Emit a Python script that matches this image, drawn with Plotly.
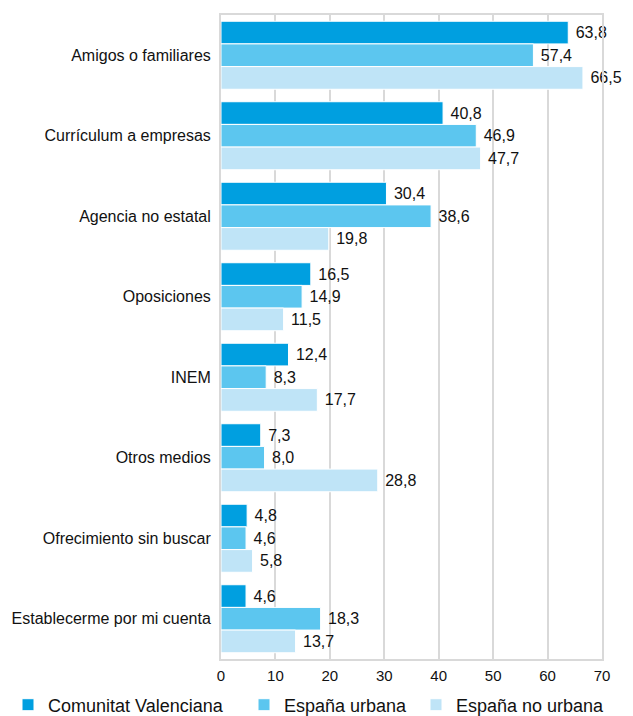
import plotly.graph_objects as go

categories = ["Amigos o familiares", "Currículum a empresas", "Agencia no estatal",
              "Oposiciones", "INEM", "Otros medios", "Ofrecimiento sin buscar",
              "Establecerme por mi cuenta"]
comunitat = [63.8, 40.8, 30.4, 16.5, 12.4, 7.3, 4.8, 4.6]
espana_urbana = [57.4, 46.9, 38.6, 14.9, 8.3, 8.0, 4.6, 18.3]
espana_no_urbana = [66.5, 47.7, 19.8, 11.5, 17.7, 28.8, 5.8, 13.7]
series_names = ["Comunitat Valenciana", "España urbana", "España no urbana"]
colors = ["#009fe0", "#5cc6ef", "#bfe4f7"]
x_ticks = [0, 10, 20, 30, 40, 50, 60, 70]

# page body has an 8px default margin; size the figure to fit the window
OFF = 8
W, H = 633 - OFF, 716 - OFF
legend_ids = ["legend", "legend2", "legend3"]
legend_px = [7 - OFF, 244 - OFF, 416 - OFF]
legend_cy = 705 - OFF

fig = go.Figure()
for name, vals, col, lid in zip(series_names, [comunitat, espana_urbana, espana_no_urbana],
                                colors, legend_ids):
    fig.add_trace(go.Bar(
        y=categories, x=vals, name=name, orientation="h", legend=lid,
        marker=dict(color=col, line=dict(color="white", width=1)),
        text=[" " + f"{v:.1f}".replace(".", ",") for v in vals],
        textposition="outside", cliponaxis=False,
        textfont=dict(size=16, color="#111111"),
    ))

leg_common = dict(orientation="h", xref="container", yref="container",
                  xanchor="left", yanchor="middle", y=(H - legend_cy) / H,
                  font=dict(size=18, color="#111111"), bgcolor="rgba(0,0,0,0)")
legend_layout = {}
for lid, px in zip(legend_ids, legend_px):
    legend_layout[lid] = dict(leg_common, x=max(px, 0) / W)

fig.update_layout(
    width=W, height=H,
    margin=dict(l=221 - OFF, r=31, t=15 - OFF, b=57, autoexpand=False),
    barmode="group", bargap=0.155, bargroupgap=0,
    plot_bgcolor="white", paper_bgcolor="white",
    font=dict(family="Liberation Sans, Arial, sans-serif", size=16, color="#111111"),
    showlegend=True,
    **legend_layout,
)
fig.update_xaxes(range=[0, 70], tickvals=x_ticks, showgrid=True, gridcolor="#d9d9d9",
                 gridwidth=2, zeroline=False, showline=True, linecolor="#d9d9d9",
                 linewidth=2, mirror=True, ticks="", tickfont=dict(size=15),
                 ticklabelstandoff=2, automargin=False)
fig.update_yaxes(autorange="reversed", showline=True, linecolor="#d9d9d9", linewidth=2,
                 mirror=True, ticks="", ticklabelstandoff=5, tickfont=dict(size=16),
                 automargin=False)

fig.write_html("out.html")
